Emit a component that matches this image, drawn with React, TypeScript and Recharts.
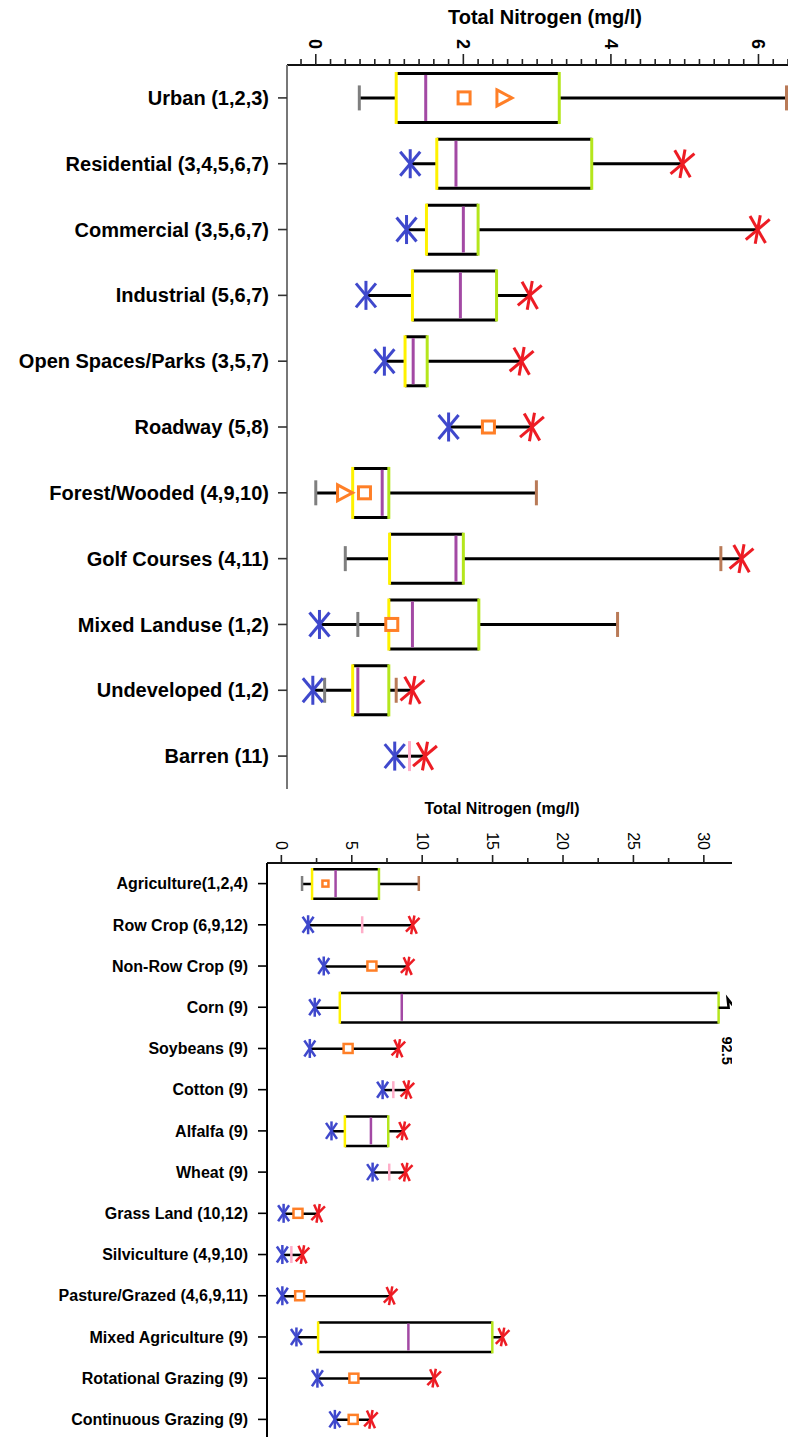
import React from 'react';
import { Bar, ComposedChart, Scatter, XAxis, YAxis } from 'recharts';

const FONT = '"Liberation Sans", Arial, Helvetica, sans-serif';

// upper panel: urban land use classes
const urbanClasses = [
  'Urban (1,2,3)',
  'Residential (3,4,5,6,7)',
  'Commercial (3,5,6,7)',
  'Industrial (5,6,7)',
  'Open Spaces/Parks (3,5,7)',
  'Roadway (5,8)',
  'Forest/Wooded (4,9,10)',
  'Golf Courses (4,11)',
  'Mixed Landuse (1,2)',
  'Undeveloped (1,2)',
  'Barren (11)',
];
const urbanMinStar = [null, 1.28, 1.23, 0.68, 0.93, 1.8, null, null, 0.05, -0.04, 1.07];
const urbanLowCap = [0.59, null, null, null, null, null, 0.0, 0.4, 0.57, 0.12, null];
const urbanQ1 = [1.09, 1.64, 1.5, 1.31, 1.21, null, 0.5, 1.0, 0.99, 0.5, null];
const urbanMedian = [1.49, 1.9, 2.0, 1.96, 1.32, null, 0.9, 1.9, 1.31, 0.57, null];
const urbanQ3 = [3.3, 3.74, 2.2, 2.45, 1.51, null, 0.99, 2.0, 2.21, 0.99, null];
const urbanHighCap = [6.38, null, null, null, null, null, 2.99, 5.49, 4.09, 1.09, null];
const urbanMaxStar = [null, 4.97, 5.99, 2.9, 2.79, 2.93, null, 5.77, null, 1.31, 1.48];
const urbanMean = [2.01, null, null, null, null, 2.34, 0.66, null, 1.03, null, null];
const urbanTriangle = [2.55, null, null, null, null, null, 0.39, null, null, null, null];
const urbanSingle = [null, null, null, null, null, null, null, null, null, null, 1.27];
const urbanTicks = [0, 2, 4, 6];

// lower panel: agricultural land use classes
const agClasses = [
  'Agriculture(1,2,4)',
  'Row Crop (6,9,12)',
  'Non-Row Crop (9)',
  'Corn (9)',
  'Soybeans (9)',
  'Cotton (9)',
  'Alfalfa (9)',
  'Wheat (9)',
  'Grass Land (10,12)',
  'Silviculture (4,9,10)',
  'Pasture/Grazed (4,6,9,11)',
  'Mixed Agriculture (9)',
  'Rotational Grazing (9)',
  'Continuous Grazing (9)',
];
const agMinStar = [null, 1.9, 3.01, 2.37, 2.02, 7.19, 3.56, 6.48, 0.16, 0.07, 0.07, 1.07, 2.56, 3.8];
const agLowCap = [1.47, null, null, null, null, null, null, null, null, null, null, null, null, null];
const agQ1 = [2.18, null, null, 4.15, null, null, 4.51, null, null, null, null, 2.61, null, null];
const agMedian = [3.85, null, null, 8.55, null, null, 6.36, null, null, null, null, 9.02, null, null];
const agQ3 = [6.93, null, null, 31.05, null, null, 7.59, null, null, null, null, 14.98, null, null];
const agHighCap = [9.76, null, null, null, null, null, null, null, null, null, null, null, null, null];
const agMaxStar = [null, 9.33, 8.97, null, 8.31, 8.95, 8.66, 8.83, 2.61, 1.5, 7.76, 15.71, 10.85, 6.36];
const agMean = [3.13, null, 6.43, null, 4.74, null, null, null, 1.18, null, 1.3, null, 5.15, 5.1];
const agSingle = [null, 5.74, null, null, null, 7.95, null, 7.66, null, 0.71, null, null, null, null];
const agQ3Actual = [null, null, null, 92.5, null, null, null, null, null, null, null, null, null, null];
const agTicks = [0, 5, 10, 15, 20, 25, 30];

const BLUE = '#3F48CC';
const RED = '#ED1C24';
const ORANGE = '#FF7F27';
const YELLOW = '#FFF200';
const LIME = '#B5E61D';
const PURPLE = '#A349A4';
const PINK = '#FFAEC9';
const GRAY = '#7F7F7F';
const BROWN = '#B97A57';

type Val = number | null;

interface Row {
  name: string;
  minStar: Val;
  lowCap: Val;
  median: Val;
  highCap: Val;
  maxStar: Val;
  mean: Val;
  tri: Val;
  single: Val;
  q3Actual: Val;
  whisker: [number, number];
  box: [number, number] | null;
}

const buildRows = (
  names: string[],
  minStar: Val[],
  lowCap: Val[],
  q1: Val[],
  median: Val[],
  q3: Val[],
  highCap: Val[],
  maxStar: Val[],
  mean: Val[],
  tri: Val[],
  single: Val[],
  q3Actual: Val[],
): Row[] =>
  names.map((name, i) => {
    const all = [minStar[i], lowCap[i], q1[i], median[i], q3[i], highCap[i], maxStar[i], mean[i], tri[i], single[i]].filter(
      (v): v is number => v !== null,
    );
    const lo = q1[i];
    const hi = q3[i];
    return {
      name,
      minStar: minStar[i],
      lowCap: lowCap[i],
      median: median[i],
      highCap: highCap[i],
      maxStar: maxStar[i],
      mean: mean[i],
      tri: tri[i],
      single: single[i],
      q3Actual: q3Actual[i],
      whisker: [Math.min(...all), Math.max(...all)],
      box: lo !== null && hi !== null ? [lo, hi] : null,
    };
  });

const urbanRows = buildRows(
  urbanClasses, urbanMinStar, urbanLowCap, urbanQ1, urbanMedian, urbanQ3, urbanHighCap,
  urbanMaxStar, urbanMean, urbanTriangle, urbanSingle, urbanClasses.map(() => null),
);
const agRows = buildRows(
  agClasses, agMinStar, agLowCap, agQ1, agMedian, agQ3, agHighCap,
  agMaxStar, agMean, agClasses.map(() => null), agSingle, agQ3Actual,
);

// minor tick positions (unlabelled)
const urbanMinor = Array.from({ length: 34 }, (_, i) => Math.round((i - 1) * 2) / 10);
const agMinor = Array.from({ length: 13 }, (_, i) => i * 2.5);

interface Look {
  boxH: number;
  sw: number;
  cap: number;
  starH: number;
  starW: number;
  starD: number;
  sq: number;
  pink: number;
}

const bigLook: Look = { boxH: 52, sw: 3, cap: 25, starH: 14.5, starW: 10, starD: 12, sq: 12, pink: 30 };
const smallLook: Look = { boxH: 32, sw: 2.5, cap: 15, starH: 9.5, starW: 5.5, starD: 8, sq: 9, pink: 17 };

const star = (cx: number, cy: number, color: string, k: Look, rot: number) => (
  <g transform={`rotate(${rot} ${cx} ${cy})`} stroke={color} strokeWidth={k.sw}>
    <line x1={cx} y1={cy - k.starH} x2={cx} y2={cy + k.starH} />
    <line x1={cx - k.starW} y1={cy - k.starD} x2={cx + k.starW} y2={cy + k.starD} />
    <line x1={cx - k.starW} y1={cy + k.starD} x2={cx + k.starW} y2={cy - k.starD} />
  </g>
);

const mark =
  (key: keyof Row, draw: (cx: number, cy: number, row: Row) => React.ReactElement) =>
  (p: any) => {
    const row = p.payload as Row;
    if (!row || row[key] === null || row[key] === undefined || !Number.isFinite(p.cx)) return <g />;
    return draw(p.cx, p.cy, row);
  };

const whiskerShape = (k: Look) => (p: any) => {
  const cy = p.y + p.height / 2;
  return <line x1={p.x} x2={p.x + p.width} y1={cy} y2={cy} stroke='#000' strokeWidth={k.sw} />;
};

const boxShape = (k: Look) => (p: any) => {
  const row = p.payload as Row;
  if (!row || !row.box) return <g />;
  const { x, y, width, height } = p;
  const t = k.sw;
  const xr = x + width;
  const cy = y + height / 2;
  return (
    <g>
      <rect x={x} y={y} width={width} height={height} fill='#fff' />
      <line x1={x} x2={xr} y1={y + t / 2} y2={y + t / 2} stroke='#000' strokeWidth={t} />
      <line x1={x} x2={xr} y1={y + height - t / 2} y2={y + height - t / 2} stroke='#000' strokeWidth={t} />
      <line x1={x} x2={x} y1={y} y2={y + height} stroke={YELLOW} strokeWidth={t} />
      <line x1={xr} x2={xr} y1={y} y2={y + height} stroke={LIME} strokeWidth={t} />
      {row.q3Actual !== null && (
        <g>
          <polyline
            points={`${xr},${cy} ${xr + 10},${cy} ${xr + 9},${cy - 9} ${xr + 16},${cy} ${xr + 22},${cy}`}
            fill='none'
            stroke='#000'
            strokeWidth={2.5}
          />
          <text
            x={xr + 8}
            y={cy + 43}
            transform={`rotate(90 ${xr + 8} ${cy + 43})`}
            textAnchor='middle'
            dy='0.35em'
            fontFamily={FONT}
            fontSize={14.5}
            fontWeight='bold'
            fill='#000'
          >
            {row.q3Actual}
          </text>
        </g>
      )}
    </g>
  );
};

const axisTick =
  (labels: number[], fontSize: number, weight: string, major: number, minor: number, gap: number, color: string) =>
  (p: any) => {
    const v = p.payload.value as number;
    const labelled = labels.some((l) => Math.abs(l - v) < 1e-6);
    const len = labelled ? major : minor;
    return (
      <g>
        <line x1={p.x} x2={p.x} y1={p.y} y2={p.y - len} stroke={color} strokeWidth={1.6} />
        {labelled && (
          <text
            x={p.x}
            y={p.y - gap}
            transform={`rotate(90 ${p.x} ${p.y - gap})`}
            textAnchor='end'
            dy='0.35em'
            fontFamily={FONT}
            fontSize={fontSize}
            fontWeight={weight}
            fill='#000'
          >
            {v}
          </text>
        )}
      </g>
    );
  };

interface PanelProps {
  rows: Row[];
  k: Look;
  width: number;
  height: number;
  axisH: number;
  axisW: number;
  rightPad: number;
  domain: [number, number];
  ticks: number[];
  tickLabels: number[];
  labelSize: number;
  tickFont: number;
  tickWeight: string;
  majorLen: number;
  minorLen: number;
  labelGap: number;
  yLineColor: string;
  yTickColor: string;
  yTickMargin: number;
}

const Panel = (c: PanelProps) => {
  const k = c.k;
  const smallMean = (row: Row) => row.name === 'Agriculture(1,2,4)';
  return (
    <ComposedChart
      layout='vertical'
      width={c.width}
      height={c.height}
      data={c.rows}
      margin={{ top: 0, right: c.rightPad, bottom: 0, left: 0 }}
      barGap={-k.boxH}
    >
      <XAxis
        type='number'
        orientation='top'
        domain={c.domain}
        allowDataOverflow
        ticks={c.ticks}
        interval={0}
        height={c.axisH}
        tickSize={0}
        tickMargin={0}
        tickLine={false}
        axisLine={{ stroke: '#111', strokeWidth: 2 }}
        tick={axisTick(c.tickLabels, c.tickFont, c.tickWeight, c.majorLen, c.minorLen, c.labelGap, '#222')}
      />
      <YAxis
        type='category'
        dataKey='name'
        width={c.axisW}
        interval={0}
        tickSize={9}
        tickMargin={c.yTickMargin}
        axisLine={{ stroke: c.yLineColor, strokeWidth: 2 }}
        tickLine={{ stroke: c.yTickColor, strokeWidth: 1.6 }}
        tick={{ fill: '#000', fontSize: c.labelSize, fontWeight: 'bold', fontFamily: FONT }}
      />
      <Bar dataKey='whisker' barSize={k.boxH} shape={whiskerShape(k)} isAnimationActive={false} />
      <Bar dataKey='box' barSize={k.boxH} shape={boxShape(k)} isAnimationActive={false} />
      <Scatter
        dataKey='lowCap'
        isAnimationActive={false}
        shape={mark('lowCap', (cx, cy) => (
          <line x1={cx} x2={cx} y1={cy - k.cap / 2} y2={cy + k.cap / 2} stroke={GRAY} strokeWidth={k.sw} />
        ))}
      />
      <Scatter
        dataKey='highCap'
        isAnimationActive={false}
        shape={mark('highCap', (cx, cy) => (
          <line x1={cx} x2={cx} y1={cy - k.cap / 2} y2={cy + k.cap / 2} stroke={BROWN} strokeWidth={k.sw} />
        ))}
      />
      <Scatter
        dataKey='median'
        isAnimationActive={false}
        shape={mark('median', (cx, cy) => (
          <line
            x1={cx}
            x2={cx}
            y1={cy - k.boxH / 2 + k.sw}
            y2={cy + k.boxH / 2 - k.sw}
            stroke={PURPLE}
            strokeWidth={k.sw}
          />
        ))}
      />
      <Scatter
        dataKey='single'
        isAnimationActive={false}
        shape={mark('single', (cx, cy) => (
          <line x1={cx} x2={cx} y1={cy - k.pink / 2} y2={cy + k.pink / 2} stroke={PINK} strokeWidth={k.sw} />
        ))}
      />
      <Scatter
        dataKey='mean'
        isAnimationActive={false}
        shape={mark('mean', (cx, cy, row) => {
          const s = smallMean(row) ? 6 : k.sq;
          return (
            <rect x={cx - s / 2} y={cy - s / 2} width={s} height={s} fill='#fff' stroke={ORANGE} strokeWidth={k.sw} />
          );
        })}
      />
      <Scatter
        dataKey='tri'
        isAnimationActive={false}
        shape={mark('tri', (cx, cy) => (
          <polygon
            points={`${cx - 7},${cy - 8} ${cx + 8},${cy} ${cx - 7},${cy + 8}`}
            fill='#fff'
            stroke={ORANGE}
            strokeWidth={k.sw}
            strokeLinejoin='miter'
          />
        ))}
      />
      <Scatter
        dataKey='minStar'
        isAnimationActive={false}
        shape={mark('minStar', (cx, cy) => star(cx, cy, BLUE, k, 0))}
      />
      <Scatter
        dataKey='maxStar'
        isAnimationActive={false}
        shape={mark('maxStar', (cx, cy) => star(cx, cy, RED, k, 10))}
      />
    </ComposedChart>
  );
};

const titleStyle = (top: number, center: number, size: number): React.CSSProperties => ({
  position: 'absolute',
  top,
  left: center - 200,
  width: 400,
  textAlign: 'center',
  fontFamily: FONT,
  fontWeight: 'bold',
  fontSize: size,
  lineHeight: `${size + 4}px`,
  color: '#000',
});

const App = () => (
  <div
    style={{
      position: 'absolute',
      left: 0,
      top: 0,
      width: 788,
      height: 1437,
      overflow: 'hidden',
      background: '#fff',
    }}
  >
    <div style={titleStyle(5, 545, 20)}>Total Nitrogen (mg/l)</div>
    <div style={{ position: 'absolute', left: 0, top: 0 }}>
      <Panel
        rows={urbanRows}
        k={bigLook}
        width={788}
        height={789}
        axisH={65}
        axisW={287}
        rightPad={0}
        domain={[-0.39, 6.4]}
        ticks={urbanMinor}
        tickLabels={urbanTicks}
        labelSize={20}
        tickFont={18}
        tickWeight='bold'
        majorLen={11}
        minorLen={6}
        labelGap={16}
        yLineColor='#777'
        yTickColor='#333'
        yTickMargin={9}
      />
    </div>
    <div style={titleStyle(799, 502, 16)}>Total Nitrogen (mg/l)</div>
    <div style={{ position: 'absolute', left: 0, top: 790 }}>
      <Panel
        rows={agRows}
        k={smallLook}
        width={788}
        height={650}
        axisH={73}
        axisW={267}
        rightPad={56}
        domain={[-1.02, 32]}
        ticks={agMinor}
        tickLabels={agTicks}
        labelSize={16}
        tickFont={16}
        tickWeight='normal'
        majorLen={8}
        minorLen={5}
        labelGap={13}
        yLineColor='#000'
        yTickColor='#000'
        yTickMargin={10}
      />
    </div>
  </div>
);

export default App;
